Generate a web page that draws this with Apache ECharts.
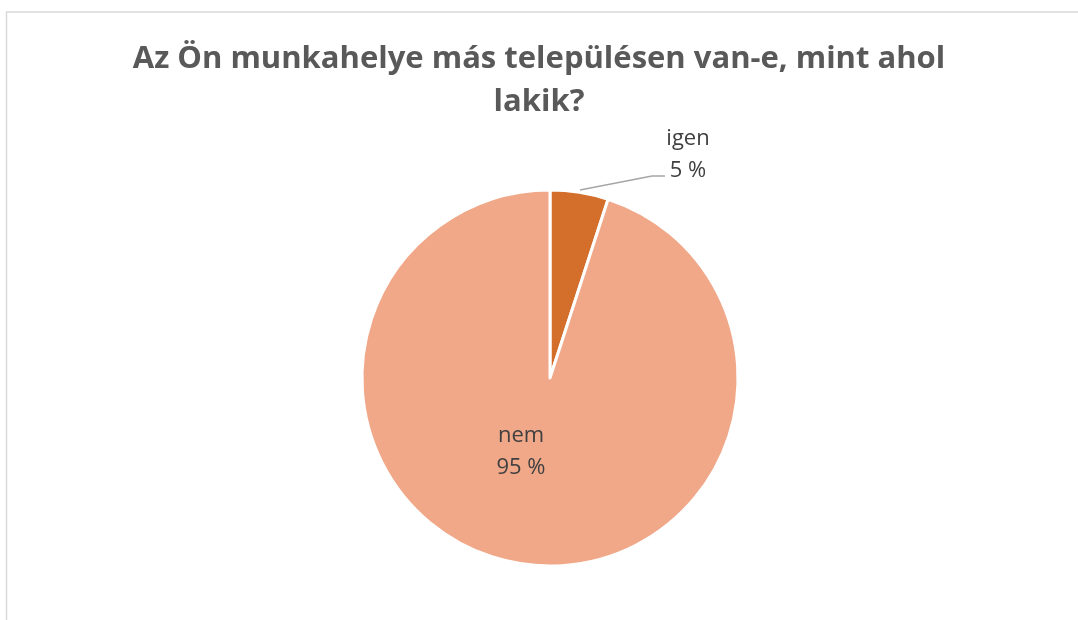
<!DOCTYPE html>
<html>
<head>
<meta charset="utf-8">
<script src="https://cdn.jsdelivr.net/npm/echarts@6/dist/echarts.min.js"></script>
<style>
html,body{margin:0;padding:0;background:#fff;}
#chart{width:1078px;height:620px;}
</style>
</head>
<body>
<div id="chart"></div>
<script>
const titleText = 'Az Ön munkahelye más településen van-e, mint ahol\nlakik?';
const categories = ['igen', 'nem'];
const values = [5, 95];
const colors = ['#D36F2B', '#F0A889'];

const chart = echarts.init(document.getElementById('chart'));
const labelPos = [
  {x: 688, y: 155},
  {x: 521, y: 452}
];
chart.setOption({
  backgroundColor: '#fff',
  title: {
    text: titleText,
    left: 'center',
    top: 33,
    textStyle: {
      fontFamily: 'Open Sans',
      fontWeight: 'bold',
      fontSize: 31,
      lineHeight: 43,
      color: '#595959'
    }
  },
  graphic: [
    {type: 'line', shape: {x1: 6, y1: 12, x2: 1078, y2: 12}, style: {stroke: '#d9d9d9', lineWidth: 1.5}},
    {type: 'line', shape: {x1: 6.5, y1: 12, x2: 6.5, y2: 620}, style: {stroke: '#d9d9d9', lineWidth: 1.5}}
  ],
  series: [{
    type: 'pie',
    center: [550, 378],
    radius: 188,
    startAngle: 90,
    clockwise: true,
    percentPrecision: 0,
    animation: false,
    itemStyle: {borderColor: '#fff', borderWidth: 3},
    label: {
      show: true,
      formatter: '{b}\n{d} %',
      fontFamily: 'Open Sans',
      fontSize: 22,
      lineHeight: 32,
      color: '#404040',
      align: 'center'
    },
    labelLine: {
      show: true,
      lineStyle: {color: '#a6a6a6', width: 1.5}
    },
    labelLayout: function (params) {
      const p = labelPos[params.dataIndex];
      const o = {x: p.x, y: p.y, align: 'center', verticalAlign: 'middle'};
      if (params.dataIndex === 0) {
        o.labelLinePoints = [[580, 190], [652, 176], [665, 176]];
      }
      return o;
    },
    data: categories.map((c, i) => ({
      name: c,
      value: values[i],
      itemStyle: {color: colors[i]},
      label: {position: i === 0 ? 'outside' : 'inside'},
      labelLine: {show: i === 0}
    }))
  }]
});
</script>
</body>
</html>
